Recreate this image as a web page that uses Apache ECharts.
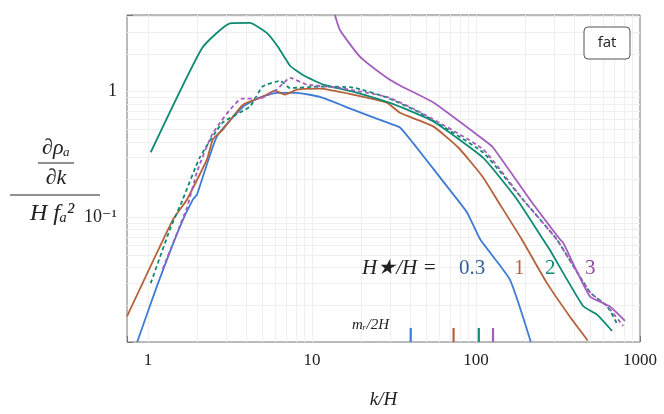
<!DOCTYPE html>
<html><head><meta charset="utf-8">
<script src="https://cdn.jsdelivr.net/npm/echarts@6/dist/echarts.min.js"></script>
<style>html,body{margin:0;padding:0;background:#fff}#c{width:664px;height:414px}</style>
</head><body><div id="c"></div>
<script>
const blueK=[0.86,1.13,1.57,1.88,1.99,2.63,3.8,4.8,6.1,8.1,11.2,17.8,28.6,34.4,41.4,60,88,106,161,216];
const blueV=[0.0102,0.028,0.085,0.139,0.152,0.44,0.76,0.90,0.98,0.98,0.91,0.72,0.57,0.52,0.39,0.21,0.11,0.067,0.032,0.0102];
const brownK=[0.745,1.42,1.73,2.29,2.49,2.86,3.8,5.0,5.95,6.85,8.1,11.2,17.8,28.6,34.4,54.8,78,110,134,190,271,373,480];
const brownV=[0.0163,0.096,0.139,0.29,0.42,0.50,0.79,0.91,1.02,0.95,1.04,1.06,0.95,0.82,0.68,0.53,0.36,0.21,0.139,0.067,0.030,0.0163,0.0105];
const greenK=[1.04,2.14,3.16,4.18,5.3,6.2,7.35,8.8,11.7,17.8,28.6,34.4,55,110,178,256,280,450,545,675];
const greenV=[0.33,2.23,3.5,3.53,2.94,2.28,1.61,1.36,1.14,1.0,0.83,0.76,0.58,0.30,0.139,0.067,0.056,0.0197,0.0169,0.0125];
const greenDK=[1.04,1.36,1.63,2.07,2.86,4.18,5.0,6.4,7.35,11.2,17.8,28.6,45.5,110,193,310,495,630,720];
const greenDV=[0.030,0.08,0.139,0.30,0.57,0.76,1.1,1.22,1.07,1.1,1.08,0.9,0.68,0.33,0.139,0.067,0.0254,0.0197,0.0145];
const purpleDK=[1.23,1.73,1.99,2.49,3.74,4.8,6.1,7.35,9.3,14.2,28.6,45.5,110,193,310,495,630,790];
const purpleDV=[0.039,0.12,0.23,0.47,0.88,0.88,1.04,1.29,1.14,1.08,0.91,0.69,0.35,0.139,0.067,0.0254,0.0197,0.0137];
const purpleK=[13.8,14.8,19.6,28.6,34.4,55,110,127,213,325,340,495,650,810];
const purpleV=[4.08,3.1,1.9,1.29,1.12,0.82,0.42,0.36,0.139,0.067,0.063,0.0235,0.0197,0.0150];
const mrK=[40,73,104,127];
const colors=['#3d7bd6','#b5623a','#0e8a73','#a35dbf'];
const zip=(a,b)=>a.map((x,i)=>[x,b[i]]);
const grid=[];
[1,10,100].forEach(d=>{for(let m=2;m<=9;m++)grid.push({xAxis:d*m});});
[0.01,0.1,1].forEach(d=>{for(let m=2;m<=9;m++){if(d*m<4.08)grid.push({yAxis:d*m});}});
[1,10,100].forEach(d=>grid.push({xAxis:d}));
[0.1,1].forEach(d=>grid.push({yAxis:d}));
const ch=echarts.init(document.getElementById('c'));
const ff='"Liberation Serif","DejaVu Serif",serif';
const ls=(name,k,v,c,type)=>({name,type:'line',data:zip(k,v),symbol:'none',smooth:0.15,lineStyle:{color:c,width:1.8,type:type||'solid'},zlevel:1,z:3});
const series=[
 {type:'line',data:[],zlevel:0,z:0,markLine:{silent:true,symbol:'none',animation:false,label:{show:false},lineStyle:{color:'#efefef',width:1,type:'solid'},data:grid}},
 ls('0.3',blueK,blueV,colors[0]),
 ls('1',brownK,brownV,colors[1]),
 ls('2',greenK,greenV,colors[2]),
 ls('2d',greenDK,greenDV,colors[2],[4,3]),
 ls('3d',purpleDK,purpleDV,colors[3],[4,3]),
 ls('3',purpleK,purpleV,colors[3])
];
mrK.forEach((k,i)=>series.push({type:'line',data:[[k,0.0102],[k,0.0132]],symbol:'none',lineStyle:{color:colors[i],width:2.2},zlevel:1,z:4}));
const T=(x,y,text,o)=>Object.assign({type:'text',zlevel:2,style:Object.assign({x,y,text,fontFamily:ff,fill:'#222',verticalAlign:'middle'},o)});
ch.setOption({
 animation:false,
 grid:{left:127,right:24,top:15,bottom:71,show:true,borderColor:'#777',borderWidth:1},
 xAxis:{type:'log',min:0.745,max:1000,axisLine:{show:false},splitLine:{show:false},
  axisTick:{show:true,inside:true,length:6,lineStyle:{color:'#777'}},
  axisLabel:{fontFamily:ff,fontSize:17,color:'#222',margin:10,formatter:v=>v>=1?String(Math.round(v)):''},
  name:'k/H',nameLocation:'middle',nameGap:48,nameTextStyle:{fontFamily:ff,fontStyle:'italic',fontSize:19,color:'#222'}},
 yAxis:{type:'log',min:0.0102,max:4.08,axisLine:{show:false},splitLine:{show:false},
  axisTick:{show:true,inside:true,length:6,lineStyle:{color:'#777'}},
  axisLabel:{fontFamily:ff,fontSize:18,color:'#222',margin:10,formatter:v=>Math.abs(v-1)<1e-6?'1':(Math.abs(v-0.1)<1e-6?'10⁻¹':'')}},
 series,
 graphic:[
  {type:'rect',zlevel:2,shape:{x:584,y:27,width:46,height:32,r:4},style:{fill:'#fff',stroke:'#555',lineWidth:1,lineDash:null}},
  T(607,43,'fat',{fontFamily:'"Open Sans",sans-serif',fontSize:15,align:'center'}),
  T(362,268,'H★/H =',{fontStyle:'italic',fontSize:21}),
  T(459,268,'0.3',{fontSize:21,fill:'#2f5f9e'}),
  T(514,268,'1',{fontSize:21,fill:colors[1]}),
  T(545,268,'2',{fontSize:21,fill:colors[2]}),
  T(585,268,'3',{fontSize:21,fill:'#8d4e9e'}),
  T(352,325,'mᵣ/2H',{fontStyle:'italic',fontSize:15}),
  T(56,148,'∂ρₐ',{fontStyle:'italic',fontSize:22,align:'center'}),
  {type:'line',zlevel:2,shape:{x1:38,y1:163,x2:74,y2:163},style:{stroke:'#222',lineWidth:1}},
  T(56,178,'∂k',{fontStyle:'italic',fontSize:22,align:'center'}),
  {type:'line',zlevel:2,shape:{x1:10,y1:195,x2:100,y2:195},style:{stroke:'#222',lineWidth:1}},
  T(52,214,'H fₐ²',{fontStyle:'italic',fontSize:24,align:'center'})
 ]
});
</script></body></html>
